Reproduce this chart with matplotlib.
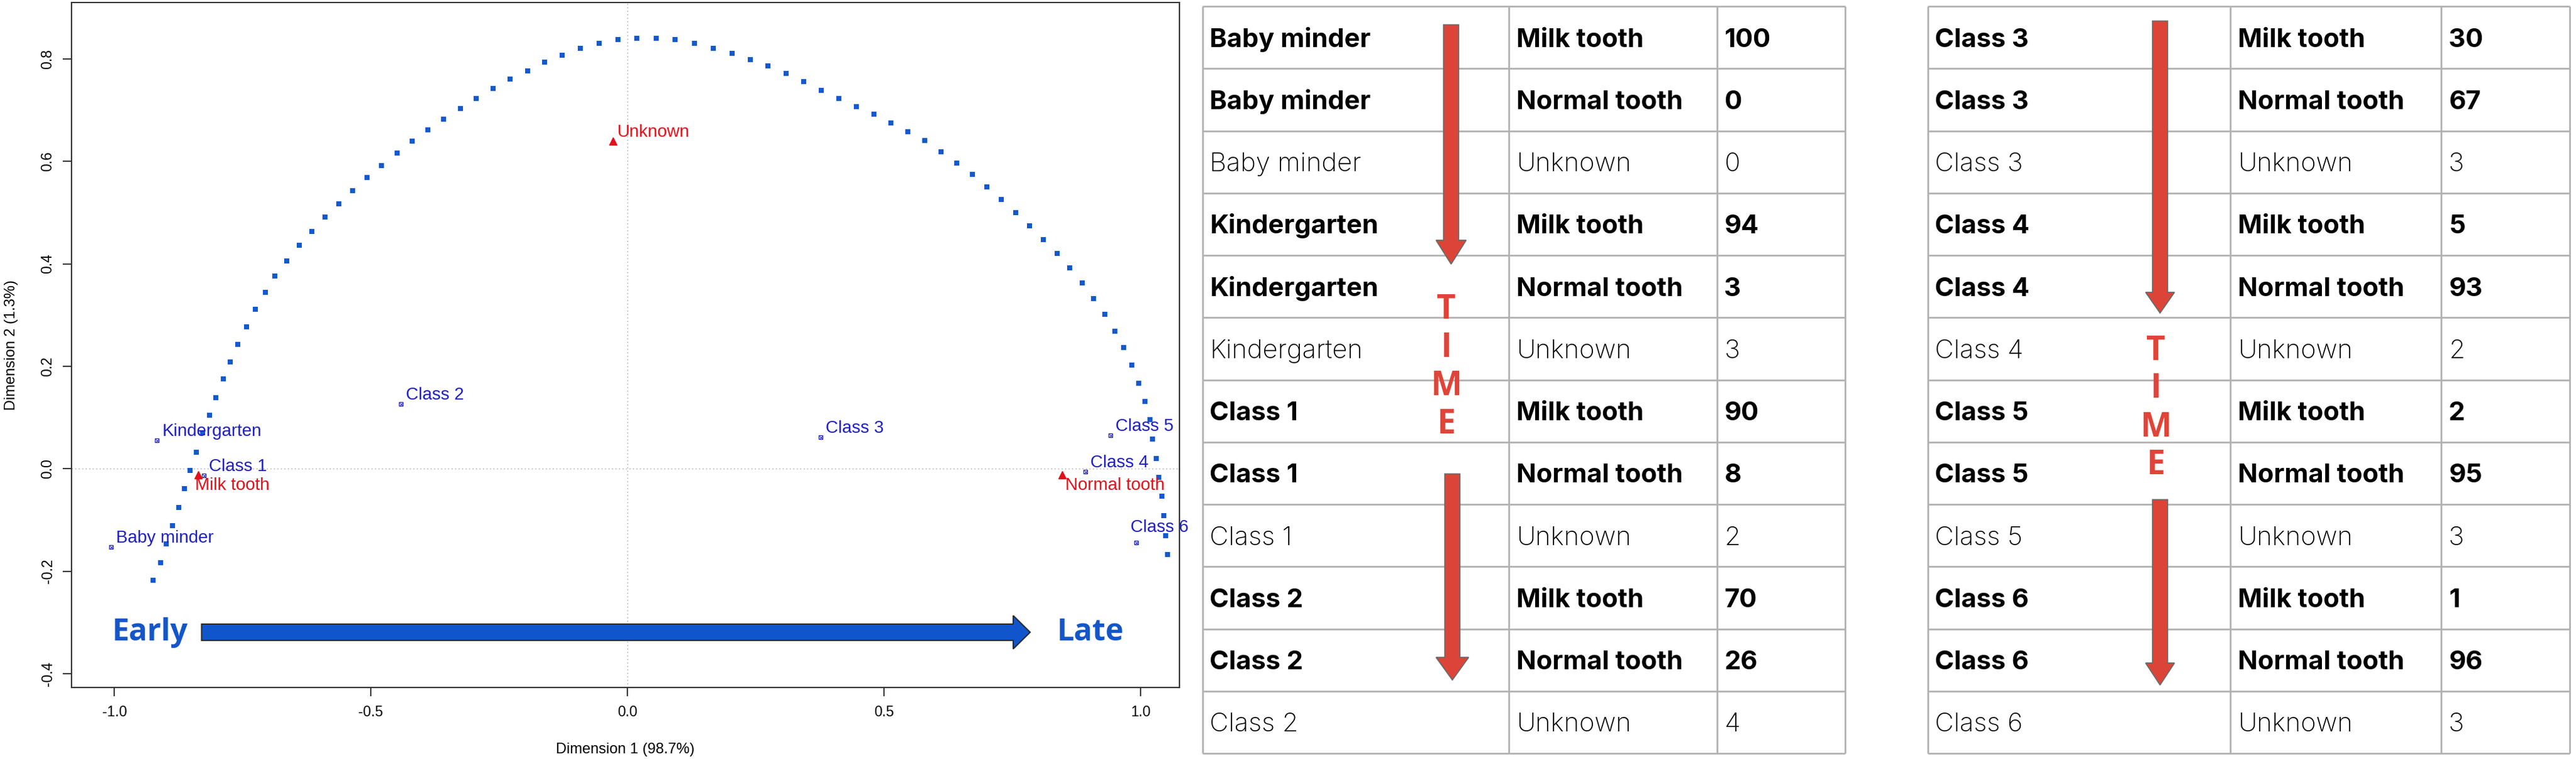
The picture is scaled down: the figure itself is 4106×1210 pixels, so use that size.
#Correspondence analysis map of tooth status by schooling stage, with the count tables beside it.
import matplotlib as mpl
mpl.use('Agg')
import matplotlib.pyplot as plt
from matplotlib.patches import FancyArrow

plt.rcParams['font.family'] = ['Liberation Sans', 'DejaVu Sans']
plt.rcParams['axes.unicode_minus'] = False

#Row points (where the child is)
places = ['Baby minder', 'Kindergarten', 'Class 1', 'Class 2',
          'Class 3', 'Class 4', 'Class 5', 'Class 6']
place_x = [-1.006, -0.917, -0.826, -0.442, 0.376, 0.892, 0.942, 0.992]
place_y = [-0.153, 0.055, -0.013, 0.126, 0.062, -0.006, 0.065, -0.144]

#Column points (tooth status)
teeth = ['Milk tooth', 'Normal tooth', 'Unknown']
tooth_x = [-0.836, 0.847, -0.028]
tooth_y = [-0.012, -0.012, 0.639]

#Dots of the horseshoe, read from left to right
arc_x = [-0.924, -0.910, -0.899, -0.887, -0.875, -0.864, -0.852, -0.840, -0.828, -0.815,
         -0.802, -0.788, -0.774, -0.759, -0.742, -0.725, -0.706, -0.687, -0.664, -0.640,
         -0.615, -0.590, -0.563, -0.536, -0.507, -0.479, -0.449, -0.419, -0.389, -0.358,
         -0.326, -0.295, -0.262, -0.229, -0.195, -0.161, -0.127, -0.092, -0.055, -0.018,
         0.018, 0.056, 0.093, 0.131, 0.168, 0.204, 0.239, 0.274, 0.309, 0.343,
         0.378, 0.412, 0.446, 0.480, 0.514, 0.547, 0.580, 0.611, 0.642, 0.672,
         0.701, 0.729, 0.757, 0.784, 0.811, 0.837, 0.862, 0.886, 0.909, 0.930,
         0.950, 0.967, 0.983, 0.997, 1.009, 1.018, 1.024, 1.031, 1.036, 1.042,
         1.045, 1.049, 1.053]
arc_y = [-0.218, -0.183, -0.147, -0.111, -0.075, -0.039, -0.003, 0.032, 0.070, 0.104,
         0.139, 0.175, 0.208, 0.243, 0.277, 0.311, 0.344, 0.376, 0.406, 0.436,
         0.463, 0.491, 0.517, 0.543, 0.568, 0.592, 0.616, 0.639, 0.661, 0.682,
         0.703, 0.723, 0.742, 0.760, 0.777, 0.793, 0.807, 0.820, 0.830, 0.837,
         0.840, 0.840, 0.837, 0.830, 0.821, 0.811, 0.799, 0.786, 0.771, 0.755,
         0.739, 0.723, 0.707, 0.692, 0.675, 0.658, 0.640, 0.619, 0.597, 0.574,
         0.550, 0.526, 0.500, 0.474, 0.447, 0.420, 0.392, 0.363, 0.332, 0.301,
         0.269, 0.236, 0.202, 0.167, 0.131, 0.096, 0.058, 0.020, -0.017, -0.054,
         -0.092, -0.130, -0.167]

#Counts per place
milk = [100, 94, 90, 70, 30, 5, 2, 1]
normal = [0, 3, 8, 26, 67, 93, 95, 96]
unknown = [0, 3, 2, 4, 3, 2, 3, 3]

blue = '#2020c4'
red = '#e3101a'
arcblue = '#1359cf'

fig = plt.figure(figsize=(41.06, 12.10), dpi=100)

#CA map
ax = fig.add_axes([0.02776, 0.09421, 0.43010, 0.90248])
ax.set_xlim(-1.0836, 1.0760)
ax.set_ylim(-0.4268, 0.9098)
for s in ax.spines.values():
    s.set_linewidth(1.5)
    s.set_color('#333333')
ax.set_xticks([-1.0, -0.5, 0.0, 0.5, 1.0])
ax.set_yticks([-0.4, -0.2, 0.0, 0.2, 0.4, 0.6, 0.8])
ax.tick_params(length=10, width=1.4, color='#333333', labelsize=16.5, pad=10)
ax.tick_params(axis='y', labelrotation=90, pad=9)
for lab in ax.get_yticklabels():
    lab.set_va('center')
ax.set_xlabel('Dimension 1 (98.7%)', fontsize=17)
ax.set_ylabel('Dimension 2 (1.3%)', fontsize=17)
ax.xaxis.label.set_va('center')
ax.yaxis.label.set_va('center')
ax.xaxis.set_label_coords(0.5, -0.0907)
ax.yaxis.set_label_coords(-0.0545, 0.5)

ax.axhline(0, color='#9a9a9a', lw=1, ls=(0, (1, 3)), zorder=1)
ax.axvline(0, color='#9a9a9a', lw=1, ls=(0, (1, 3)), zorder=1)

ax.plot(arc_x, arc_y, ls='none', marker='s', ms=5.6, mew=0, color=arcblue, zorder=2)

ax.plot(place_x, place_y, ls='none', marker='s', ms=5, mfc='none', mec=blue, mew=0.9, zorder=3)
ax.plot(place_x, place_y, ls='none', marker='x', ms=3.6, mec=blue, mew=0.7, zorder=3)
ax.plot(tooth_x, tooth_y, ls='none', marker='^', ms=8, color=red, zorder=3)

for name, x, y in zip(places, place_x, place_y):
    off = (-6.5, 12.2) if name == 'Class 6' else (5.8, 5.0)
    ax.annotate(name, (x, y), xytext=off, textcoords='offset points',
                ha='left', va='baseline', fontsize=20, color=blue, zorder=4)
tooth_off = {'Milk tooth': (-4, -17.3), 'Normal tooth': (4, -17.3), 'Unknown': (5, 5)}
for name, x, y in zip(teeth, tooth_x, tooth_y):
    ax.annotate(name, (x, y), xytext=tooth_off[name], textcoords='offset points',
                ha='left', va='baseline', fontsize=20, color=red, zorder=4)

#Early -> Late arrow
ax.add_patch(FancyArrow(-0.830, -0.319, 0.785 + 0.830, 0, width=0.0318, head_width=0.0649,
                        head_length=0.033, length_includes_head=True,
                        fc='#1155cc', ec='#2b2b2b', lw=1.5, zorder=3))
ax.text(-0.930, -0.3355, 'Early', ha='center', va='baseline', fontsize=35,
        fontweight='bold', family=['Open Sans', 'DejaVu Sans'], color='#1456c8')
ax.text(0.902, -0.3345, 'Late', ha='center', va='baseline', fontsize=35,
        fontweight='bold', family=['Open Sans', 'DejaVu Sans'], color='#1456c8')

#Tables, in pixel coordinates of the whole figure
tab = fig.add_axes([0, 0, 1, 1])
tab.set_xlim(0, 4106)
tab.set_ylim(1210, 0)
tab.axis('off')

counts = [milk, normal, unknown]
col_edges = [[1916.5, 2405, 2736.5, 2940.5], [3072.5, 3555, 3891, 4096]]
row_top = 10
row_h = 99.25
grid = '#b2b2b2'
tfont = ['Inter', 'Lato', 'DejaVu Sans']

for t in range(2):
    edges = col_edges[t]
    tab.hlines([row_top + k * row_h for k in range(13)], edges[0], edges[-1], color=grid, lw=2)
    tab.vlines(edges, row_top, row_top + 12 * row_h, color=grid, lw=2)
    for i in range(4):
        p = t * 4 + i
        for s in range(3):
            r = i * 3 + s
            yb = row_top + (r + 0.5) * row_h + 15
            w = 'bold' if s < 2 else 'light'
            cells = [places[p], teeth[s], str(counts[s][p])]
            for c in range(3):
                tab.text(edges[c] + 12, yb, cells[c], fontsize=30, fontweight=w,
                         family=tfont, ha='left', va='baseline', color='black')

#Red TIME arrows
def time_arrow(x, y0, y1, hw, hl):
    tab.add_patch(FancyArrow(x, y0, 0, y1 - y0, width=24, head_width=hw, head_length=hl,
                             length_includes_head=True, fc='#dc4437', ec='#6a6a6a', lw=1.3, zorder=5))

time_arrow(2313, 39.5, 421, 48, 38)
time_arrow(2315, 755.5, 1084, 52, 36)
time_arrow(3443, 33.5, 499, 46, 33)
time_arrow(3443, 796.5, 1092, 46, 35)

for x, y0 in [(2305, 487.5), (3436, 553)]:
    for k, ch in enumerate('TIME'):
        tab.text(x, y0 + 61 * k, ch, ha='center', va='center_baseline', fontsize=38,
                 fontweight='bold', family=['Open Sans', 'DejaVu Sans'], color='#e04438', zorder=6)

fig.savefig('out.png', dpi=100)
